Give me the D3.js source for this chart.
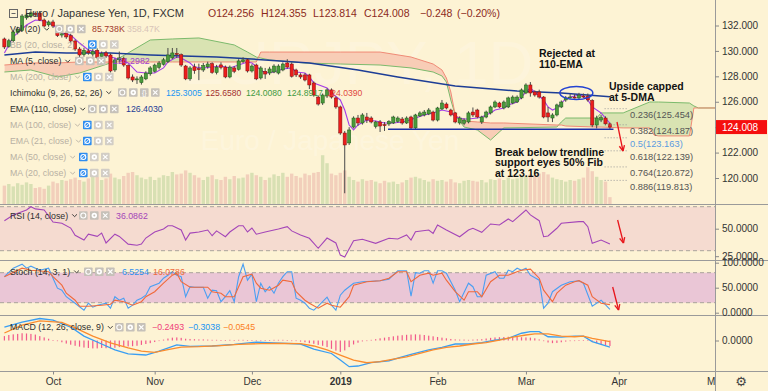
<!DOCTYPE html>
<html><head><meta charset="utf-8">
<script src="https://cdn.jsdelivr.net/npm/d3@7"></script>
<style>
html,body{margin:0;padding:0;background:#fdf3d4;}
svg{display:block;font-family:"Liberation Sans",Arial,sans-serif;}
</style></head><body>
<svg id="c" width="768" height="391"></svg>
<script>
// ---------- DATA (EUR/JPY daily, FXCM; bar 0 = 14 Sep 2018, bar 137 = 28 Mar 2019) ----------
const open = [130.94,130.35,130.80,131.45,131.60,132.60,132.75,132.95,132.98,132.43,
132.05,132.28,131.96,131.25,131.40,131.20,130.78,130.15,129.70,130.00,
129.75,130.05,129.55,129.85,129.68,128.50,129.30,129.40,128.85,127.95,
127.75,127.50,127.80,128.20,128.40,128.70,128.95,129.15,129.45,129.80,
129.70,128.81,127.80,128.75,128.60,128.50,128.75,129.00,128.30,128.90,
128.73,127.95,128.66,128.55,129.15,129.30,128.42,128.89,127.87,128.40,
128.26,128.34,128.26,128.50,129.05,128.97,128.50,128.11,128.11,128.11,
127.48,126.37,125.90,126.45,126.93,126.30,125.59,123.54,122.76,124.01,
124.72,124.33,124.80,124.72,124.05,124.41,124.20,124.25,124.33,124.45,
124.64,124.33,124.80,123.94,124.88,124.96,125.04,125.19,124.56,125.43,
125.82,125.35,125.12,124.33,124.30,124.41,125.19,125.35,124.41,124.80,
125.12,125.59,125.90,125.51,125.59,125.90,125.98,126.30,126.69,127.32,
126.77,126.77,126.37,125.12,124.72,124.96,125.59,126.14,126.35,126.37,
126.30,126.45,126.45,126.10,124.17,124.56,124.72,124.256];
const high = [131.05,130.95,131.60,131.90,132.90,133.00,133.20,133.10,133.10,132.55,
132.40,132.45,132.00,131.55,131.55,131.35,130.90,130.30,130.25,130.20,
130.15,130.20,129.95,130.00,129.80,129.45,129.95,129.55,128.95,128.15,
128.00,128.10,128.40,128.80,129.00,129.20,129.45,130.23,130.23,130.23,
129.80,128.90,128.80,129.00,129.00,129.05,129.15,129.10,128.90,129.10,
128.85,128.85,128.80,129.35,129.50,129.40,128.95,129.00,128.80,128.66,
128.75,128.95,128.95,129.10,129.35,129.10,128.60,128.25,128.25,128.20,
127.60,126.50,126.65,127.05,127.05,126.40,125.70,123.70,124.00,124.85,
124.96,125.10,125.12,124.85,124.50,124.56,124.40,124.55,124.90,124.85,
124.80,124.85,124.90,125.05,125.25,125.35,125.50,125.30,125.60,126.14,
125.95,125.45,125.20,124.85,124.70,125.25,125.55,125.45,124.90,125.30,
125.70,126.10,126.00,126.10,126.40,126.50,126.50,127.05,127.45,127.55,
126.90,126.95,126.45,125.59,125.10,125.85,126.10,126.45,126.60,126.60,
126.70,126.65,126.65,126.20,124.90,124.95,124.85,124.355];
const low = [130.15,130.25,130.70,131.30,131.50,132.45,132.60,132.70,132.35,131.85,
131.90,131.80,131.10,131.05,130.95,130.60,130.00,129.45,129.55,129.70,
129.55,129.35,129.40,129.45,128.30,128.35,129.10,128.75,127.75,127.55,
127.40,127.35,127.70,128.05,128.30,128.55,128.85,129.05,129.35,129.44,
128.75,127.70,127.65,128.20,127.70,128.35,128.60,128.20,128.15,128.55,
127.85,127.85,128.25,128.45,129.05,128.30,128.30,127.70,127.75,127.80,
128.10,128.25,128.15,128.40,128.60,127.90,127.95,127.80,127.60,127.00,
126.40,125.70,125.75,126.30,126.25,125.45,123.40,118.80,122.60,123.90,
124.10,124.20,124.33,124.30,123.90,123.62,123.70,124.10,124.25,124.35,
124.20,124.25,123.85,123.85,124.80,124.85,124.95,124.45,124.45,125.35,
125.40,124.85,124.30,124.20,124.15,124.30,124.80,124.70,124.25,124.70,
125.00,125.50,125.50,125.40,125.50,125.80,125.90,126.20,126.60,126.40,
126.40,126.25,124.70,124.41,124.40,124.85,125.50,126.00,126.25,126.25,
126.20,126.30,126.00,124.00,123.90,124.40,124.15,123.814];
const close = [130.31,130.80,131.49,131.70,132.75,132.83,133.00,132.88,132.43,131.96,
132.28,131.96,131.20,131.35,131.10,130.78,130.15,129.68,130.05,129.85,
129.95,129.50,129.80,129.60,128.42,129.29,129.45,128.89,127.87,127.71,
127.80,127.95,128.26,128.66,128.89,129.05,129.30,129.68,129.84,129.76,
128.89,127.80,128.66,128.45,128.55,128.85,128.97,128.30,128.73,128.70,
127.95,128.73,128.40,129.21,129.29,128.42,128.81,127.80,128.66,128.18,
128.58,128.81,128.81,128.97,128.73,128.00,128.11,127.95,127.71,127.32,
126.53,125.82,126.53,126.93,126.37,125.59,123.54,122.60,123.78,124.72,
124.33,124.96,124.56,124.41,124.41,124.09,124.15,124.45,124.80,124.72,
124.33,124.72,123.94,124.96,125.12,125.19,125.35,124.56,125.51,125.90,
125.51,124.96,124.41,124.72,124.56,125.12,124.96,124.80,124.80,125.19,
125.59,125.98,125.59,125.98,126.30,126.37,126.37,126.93,127.32,126.69,
126.53,126.37,124.80,124.80,124.96,125.75,125.98,126.30,126.37,126.35,
126.53,126.43,126.14,124.17,124.72,124.75,124.26,124.008];
const volumeK = [230,250,220,260,240,270,250, 200,210,190,230,280,260,300, 290,310,330,300,280,320,360,
340,300,320,380,330,310,350, 390,400,360,330,310,340, 300,330,360,350,400,370,380,
420,390,360,330,300,340,360, 310,300,340,310,350,320,330,370, 390,360,340,300,330,370,350,390,
340,380,350,330,380,360,390, 400,610,510,380,360,390,420, 340,300,280,310,290,300,280,
260,290,270,280,250,270,300, 330,340,320,300,280,310,290, 300,280,310,270,260,290,300,
290,280,300,270,310,300,320, 300,330,310,320,340,350,370, 360,380,400,370,330,310,300,
280,300,290,310,330,460,410, 340,300,280,85.738];
// Moving average (5) and EMA (110), read at bar positions
const ma5Pts = [[0,129.84],[2,131.10],[5,132.04],[7,132.43],[9,132.35],[11,132.04],[13,131.41],[15,131.25],[17,130.62],[19,130.07],
[22,129.84],[24,129.52],[25,129.44],[28,129.05],[30,128.34],[32,128.26],[34,128.26],[36,128.66],[37,129.13],[39,129.52],
[40,129.44],[42,129.05],[43,128.73],[45,128.66],[47,128.73],[49,128.81],[51,128.66],[53,128.89],[55,129.13],[56,129.05],
[58,128.50],[59,128.26],[61,128.34],[63,128.58],[65,128.66],[66,128.34],[68,128.26],[69,127.95],[70,127.48],[73,127.08],
[74,126.69],[76,126.14],[77,125.35],[78,124.17],[79,123.78],[80,124.17],[82,124.56],[84,124.49],[86,124.33],[88,124.33],
[90,124.41],[91,124.49],[93,124.72],[95,124.96],[97,125.12],[99,125.35],[101,125.19],[102,124.80],[104,124.64],[105,124.64],
[107,124.72],[108,124.80],[110,125.12],[111,125.35],[113,125.51],[114,125.75],[116,125.98],[117,126.37],[118,126.77],[119,127.08],
[120,126.77],[122,126.14],[123,125.59],[124,125.35],[125,125.51],[126,125.90],[127,126.22],[128,126.37],[130,126.53],[131,126.45],
[132,126.14],[133,125.59],[135,125.12],[136,124.72],[137,124.2982]];
const ema110Pts = [[0,129.68],[7,129.91],[14,129.84],[24,129.84],[33,129.68],[48,129.52],[56,129.36],[69,129.05],[80,128.50],[89,127.95],[102,127.24],[116,126.85],[126,126.69],[137,126.403]];
// Ichimoku cloud (leading spans, projected 26 bars ahead)
const cloudIdx = [0,6,12,17,24,28,33,38,44,52,55,57,58,60,68,76,85,92,97,99,100,101,102,104,107,110,113,125,126,127,134,135,140,146,147,148,155,156,157,163];
const spanA = [128.34,128.50,127.95,128.26,129.05,129.84,130.86,130.94,131.02,130.47,129.91,129.52,129.44,129.29,129.05,128.97,128.89,128.66,128.34,128.03,127.55,126.14,124.96,124.01,123.78,122.99,123.94,124.01,124.41,124.72,124.72,125.12,125.12,125.98,125.98,125.98,125.90,125.67,125.51,125.51];
const spanB = [128.89,129.05,129.05,129.13,129.13,129.13,129.13,129.13,129.13,129.13,129.13,129.13,129.91,129.91,129.91,129.91,129.91,129.52,128.97,128.50,127.87,126.77,124.96,124.49,124.41,124.33,124.33,124.17,124.17,124.09,124.01,124.01,123.94,123.94,123.38,123.31,123.31,125.51,125.51,125.51];
// Fibonacci retracement levels
const fibRatios = ["0.236","0.382","0.5","0.618","0.764","0.886"];
const fibPrices = [125.454,124.187,123.163,122.139,120.872,119.813];
const trendPrice = 123.83, trendFrom = 86.8, trendTo = 137.8;
// RSI (14)
const rsiPts = [[0,57.3],[2,62.5],[5,67],[6,70],[7,68],[9,67],[11,56],[13,55],[15,50.6],[16,44],[18,39.7],[19,45],[21,43],[22,46],[23,37],[25,45],[26,43],[28,36],[30,35],[31,36],[32,41.5],
[34,47],[36,49.7],[37,52.7],[38,52.7],[40,48.8],[41,39.7],[42,46],[44,47],[46,48.8],[47,43.6],[48,48],[50,42.7],[51,47],[53,52.7],[54,52.7],[55,47],[56,50.6],[57,45],[59,47],[61,48.8],
[62,49.7],[64,51.8],[65,48],[67,44.2],[69,41.3],[71,32.2],[73,41.5],[75,37],[76,26],[77,24.3],[79,39],[81,40.4],[84,36.7],[87,41.3],[89,40.6],[91,44.3],[92,39.7],[93,47.3],[96,48.8],[97,45.8],
[98,53.4],[100,48.8],[103,42.7],[105,48.8],[106,50.4],[108,46.7],[110,54.3],[112,53.4],[114,58.8],[115,56.4],[118,67],[119,62.5],[121,57.3],[122,42.7],[123,43.4],[125,50.4],[126,54.9],[130,56.4],[131,56.4],[132,51.8],[133,36.7],[135,39.7],[137,36.0862]];
// Stochastic (14,3,1) %K and %D
const stochK = [[0,72],[2,89],[4,97],[5,89],[6,93],[8,85],[10,89],[11,69],[12,49],[13,45],[14,32],[16,19],[17,12],[18,5],[19,19],[20,11],[21,15],[22,17],[23,19],[24,9],[25,32],[26,25],[27,29],[28,9],[29,15],[30,25],[31,29],[32,35],[33,52],[35,59],[36,69],[37,75],[38,82],[39,75],[40,72],[41,32],[42,52],[43,51],[44,51],[45,51],[46,29],[47,45],[48,44],[49,22],[50,32],[51,44],[52,22],[53,72],[54,97],[55,65],[56,77],[57,22],[58,59],[59,42],[60,52],[61,39],[62,59],[63,72],[64,82],[65,82],[66,29],[67,25],[68,19],[69,9],[70,5],[71,13],[73,31],[74,15],[75,5],[76,35],[77,45],[79,59],[81,62],[85,64],[87,67],[89,84],[91,84],[92,33],[93,80],[94,79],[95,84],[96,84],[97,59],[98,84],[99,84],[100,79],[102,45],[103,22],[105,59],[106,52],[107,32],[108,32],[109,75],[111,82],[112,69],[113,69],[114,85],[115,82],[116,89],[117,85],[118,89],[119,75],[121,65],[122,9],[123,19],[124,42],[126,55],[128,62],[130,64],[131,59],[133,13],[135,25],[137,6.5254]];
const stochD = [[0,72],[4,89],[6,85],[10,82],[11,72],[13,55],[14,39],[16,25],[17,13],[19,13],[22,15],[24,17],[25,25],[27,22],[29,15],[31,22],[32,32],[34,42],[36,59],[38,75],[39,79],[40,62],[42,51],[44,51],[46,51],[47,42],[49,39],[50,32],[52,32],[53,52],[54,72],[56,77],[57,59],[58,49],[60,45],[62,55],[63,65],[65,62],[66,42],[68,25],[69,19],[71,9],[73,19],[74,15],[76,11],[78,32],[79,55],[82,62],[85,64],[87,69],[89,82],[91,82],[92,62],[94,75],[96,79],[97,75],[99,79],[100,65],[102,42],[104,25],[105,42],[107,42],[108,32],[110,62],[112,75],[114,75],[116,82],[117,85],[119,87],[121,69],[122,45],[124,22],[125,39],[127,55],[129,62],[130,64],[132,55],[133,32],[135,19],[137,16.0786]];
// MACD (12,26,9)
const macdPts = [[0,0.61],[4,0.84],[8,1.00],[11,0.93],[15,0.61],[18,0.20],[22,-0.16],[25,-0.43],[28,-0.61],[32,-0.66],[35,-0.48],[39,-0.20],[42,-0.27],[47,-0.25],[52,-0.18],[57,-0.07],[61,-0.11],[67,-0.16],[70,-0.39],[74,-0.59],[76,-0.89],[78,-1.19],[80,-1.16],[83,-1.01],[87,-0.92],[90,-0.74],[92,-0.63],[96,-0.43],[99,-0.31],[102,-0.16],[105,-0.16],[108,-0.10],[111,0.02],[114,0.10],[117,0.33],[119,0.40],[121,0.40],[123,0.17],[126,0.15],[129,0.20],[131,0.20],[133,-0.05],[137,-0.3038]];
const signalPts = [[0,0.34],[4,0.70],[8,0.89],[13,0.82],[16,0.57],[20,0.20],[24,-0.11],[28,-0.34],[31,-0.48],[34,-0.54],[37,-0.41],[40,-0.30],[44,-0.28],[49,-0.23],[53,-0.18],[58,-0.14],[62,-0.13],[67,-0.14],[70,-0.25],[73,-0.43],[76,-0.66],[79,-0.89],[82,-1.01],[85,-0.96],[88,-0.85],[91,-0.74],[94,-0.58],[97,-0.43],[100,-0.31],[103,-0.25],[106,-0.16],[109,-0.10],[112,0.02],[115,0.15],[118,0.25],[120,0.30],[123,0.30],[126,0.20],[129,0.17],[131,0.20],[133,0.10],[137,-0.0545]];
const histogram = [0.20,0.25,0.28,0.30,0.33,0.32,0.30,0.27,0.20,0.14,0.08,0.02,
-0.03,-0.08,-0.14,-0.19,-0.24,-0.28,-0.32,-0.34,-0.36,-0.36,-0.34,-0.35,-0.36,-0.33,-0.30,-0.28,-0.27,-0.26,-0.24,-0.20,-0.16,-0.12,
-0.07,-0.02,0.04,0.09,0.13,0.14,0.12,0.08,0.07,0.06,0.05,0.05,0.04,0.03,0.03,0.02,0.02,0.03,0.02,0.03,0.03,0.02,
0.01,-0.01,0.00,0.01,0.02,0.03,0.03,0.03,0.02,0.00,-0.02,-0.05,-0.08,
-0.12,-0.15,-0.20,-0.24,-0.30,-0.38,-0.46,-0.52,-0.45,-0.30,-0.18,-0.10,-0.04,0.00,0.03,
0.06,0.10,0.13,0.16,0.19,0.22,0.24,0.26,0.27,0.28,0.27,0.25,0.22,0.19,
0.16,0.13,0.10,0.07,0.05,0.04,0.04,0.03,0.04,0.05,0.06,
0.09,0.12,0.14,0.15,0.16,0.17,0.17,0.16,0.15,0.14,0.13,0.10,
0.05,-0.03,-0.09,-0.12,-0.11,-0.08,-0.05,-0.03,-0.01,0.01,0.02,0.01,-0.06,-0.12,-0.17,-0.21,-0.2493];
// Axis ticks
const monthIdx = [11,34,56,76,98,118,139,161];
const monthLabels = ["Oct","Nov","Dec","2019","Feb","Mar","Apr","May"];
const priceTicks = [120,122,124,126,128,130,132];
const rsiTicks = [25,50], stochTicks = [0,50,100], macdTicks = [0];

// ---------- LAYOUT ----------
const W=768,H=391,PR=715;
const F="'Liberation Sans',Arial,sans-serif";
const x = d3.scaleLinear().domain([0,161]).range([4.4,716]);
const yP = d3.scaleLinear().domain([120,132]).range([178,25.5]);
const yV = d3.scaleLinear().domain([0,800]).range([204,140]);
const yR = d3.scaleLinear().domain([30,70]).range([250.7,206.7]);
const yS = d3.scaleLinear().domain([0,100]).range([312.7,262.7]);
const yM = d3.scaleLinear().domain([-1,1]).range([362.5,318.5]);

const svg = d3.select("#c");
const defs = svg.append("defs");
function clip(id,y0,y1,w){defs.append("clipPath").attr("id",id).append("rect").attr("x",0).attr("y",y0).attr("width",w||PR).attr("height",y1-y0);}
clip("cMain",0,204); clip("cRsi",204.5,260.5); clip("cSto",260.5,315.5); clip("cMacd",315.5,371); clip("cX",371,391);
svg.append("rect").attr("width",W).attr("height",H).attr("fill","#fdf3d4");

// indicator bands
svg.append("rect").attr("x",0).attr("y",yR(70)).attr("width",PR).attr("height",yR(30)-yR(70)).attr("fill","#f5dbd0");
svg.append("rect").attr("x",0).attr("y",yS(80)).attr("width",PR).attr("height",yS(20)-yS(80)).attr("fill","#eac6d6");
[[yR(70)],[yR(30)],[yS(80)],[yS(20)]].forEach(d=>svg.append("line").attr("x1",0).attr("x2",PR).attr("y1",d[0]).attr("y2",d[0]).attr("stroke","#a9a39b").attr("stroke-dasharray","4,3"));

// ---------- MAIN PANE ----------
const gMain = svg.append("g").attr("clip-path","url(#cMain)");
gMain.append("text").attr("x",358).attr("y",84).attr("text-anchor","middle").attr("font-size",62).attr("font-family",F).attr("fill","#ffffff").attr("opacity",0.16).text("EURJPY, 1D");
gMain.append("text").attr("x",330).attr("y",150).attr("text-anchor","middle").attr("font-size",28).attr("font-family",F).attr("fill","#ffffff").attr("opacity",0.2).text("Euro / Japanese Yen");

const cloud = cloudIdx.map((d,k)=>({i:d,a:spanA[k],b:spanB[k]}));
defs.append("clipPath").attr("id","cUp").append("path").attr("d",d3.area().x(d=>x(d.i)).y0(d=>yP(d.b)).y1(0)(cloud));
defs.append("clipPath").attr("id","cDn").append("path").attr("d",d3.area().x(d=>x(d.i)).y0(d=>yP(d.b)).y1(204)(cloud));
const band = d3.area().x(d=>x(d.i)).y0(d=>yP(d.a)).y1(d=>yP(d.b));
gMain.append("g").attr("clip-path","url(#cUp)").append("path").attr("d",band(cloud)).attr("fill","#d9e3b2");
gMain.append("g").attr("clip-path","url(#cDn)").append("path").attr("d",band(cloud)).attr("fill","#f8cdb6");
gMain.append("path").attr("d",d3.line().x(d=>x(d.i)).y(d=>yP(d.a))(cloud)).attr("fill","none").attr("stroke","#7cba6c").attr("stroke-width",1);
gMain.append("path").attr("d",d3.line().x(d=>x(d.i)).y(d=>yP(d.b))(cloud)).attr("fill","none").attr("stroke","#f08a76").attr("stroke-width",1);

const idx = d3.range(close.length);
const isUp = i => close[i] >= open[i];
gMain.append("g").selectAll("rect").data(idx).join("rect")
  .attr("x",i=>x(i)-1.7).attr("width",3.4).attr("y",i=>yV(volumeK[i])).attr("height",i=>yV(0)-yV(volumeK[i]))
  .attr("fill",i=>isUp(i)?"#d8e0b3":"#f2cfbb");

const ln = d3.line().x(d=>x(d[0])).y(d=>yP(d[1]));
gMain.append("path").attr("d",ln(ema110Pts)).attr("fill","none").attr("stroke","#1d3d96").attr("stroke-width",1.5);
gMain.append("path").attr("d",ln(ma5Pts)).attr("fill","none").attr("stroke","#a43de8").attr("stroke-width",1.1);

const gC = gMain.append("g");
gC.selectAll("line").data(idx).join("line").attr("x1",i=>x(i)).attr("x2",i=>x(i)).attr("y1",i=>yP(high[i])).attr("y2",i=>yP(low[i])).attr("stroke","#4a4a4a").attr("stroke-width",1);
gC.selectAll("rect").data(idx).join("rect")
  .attr("x",i=>x(i)-1.6).attr("width",3.2)
  .attr("y",i=>yP(Math.max(open[i],close[i])))
  .attr("height",i=>Math.max(1,Math.abs(yP(open[i])-yP(close[i]))))
  .attr("fill",i=>isUp(i)?"#4a9a3c":"#ec1c1c").attr("stroke",i=>isUp(i)?"#1f5a1a":"#7a1010").attr("stroke-width",0.5);

// trendline, ellipse
gMain.append("line").attr("x1",x(trendFrom)).attr("x2",x(trendTo)).attr("y1",yP(trendPrice)).attr("y2",yP(trendPrice)).attr("stroke","#1b2fa8").attr("stroke-width",1.5);
gMain.append("ellipse").attr("cx",x(129.4)).attr("cy",yP(126.69)).attr("rx",16.5).attr("ry",6.5).attr("fill","none").attr("stroke","#2342d2").attr("stroke-width",1.5);

// fib levels
fibPrices.forEach((p,k)=>{
  gMain.append("line").attr("x1",x(135.8)).attr("x2",x(141.2)).attr("y1",yP(p)).attr("y2",yP(p)).attr("stroke","#9b9b9b").attr("stroke-dasharray","1,2");
  gMain.append("text").attr("x",630).attr("y",yP(p)+9.5).attr("font-size",9.3).attr("font-family",F)
    .attr("fill",fibRatios[k]==="0.5"?"#5b9be0":"#555").text(fibRatios[k]+"("+p.toFixed(3)+")");
});

// annotations
const ann = svg.append("g").attr("font-family",F).attr("font-weight","bold").attr("font-size",10.5).attr("fill","#111");
[["Rejected at",539,57.3],["110-EMA",539,68],["Upside capped",609,90.3],["at 5-DMA",609,100.7],
 ["Break below trendline",495,155.5],["support eyes 50% Fib",495,166],["at 123.16",495,176.5]].forEach(t=>ann.append("text").attr("x",t[1]).attr("y",t[2]).text(t[0]));
function arrow(x1,y1,x2,y2){
  const g=svg.append("g").attr("stroke","#e8151b").attr("stroke-width",1.3).attr("fill","none");
  g.append("line").attr("x1",x1).attr("y1",y1).attr("x2",x2).attr("y2",y2);
  const a=Math.atan2(y2-y1,x2-x1),L=6;
  [0.45,-0.45].forEach(s=>g.append("line").attr("x1",x2).attr("y1",y2).attr("x2",x2-L*Math.cos(a+s)).attr("y2",y2-L*Math.sin(a+s)));
}
arrow(617,122,623,151); arrow(617.6,220,623.5,243); arrow(612.7,287,618.6,310);

// ---------- INDICATORS ----------
const gR = svg.append("g").attr("clip-path","url(#cRsi)");
gR.append("path").attr("d",d3.line().x(d=>x(d[0])).y(d=>yR(d[1]))(rsiPts)).attr("fill","none").attr("stroke","#a446b8").attr("stroke-width",1.1);
const gS = svg.append("g").attr("clip-path","url(#cSto)");
gS.append("path").attr("d",d3.line().x(d=>x(d[0])).y(d=>yS(d[1]))(stochK)).attr("fill","none").attr("stroke","#4b9ff2").attr("stroke-width",1.1);
gS.append("path").attr("d",d3.line().x(d=>x(d[0])).y(d=>yS(d[1]))(stochD)).attr("fill","none").attr("stroke","#f06a3c").attr("stroke-width",1.1);
const gM = svg.append("g").attr("clip-path","url(#cMacd)");
gM.selectAll("rect").data(idx).join("rect").attr("x",i=>x(i)-0.6).attr("width",1.2)
  .attr("y",i=>Math.min(yM(0),yM(histogram[i]))).attr("height",i=>Math.max(0.6,Math.abs(yM(histogram[i])-yM(0)))).attr("fill","#f2588a");
gM.append("path").attr("d",d3.line().x(d=>x(d[0])).y(d=>yM(d[1]))(macdPts)).attr("fill","none").attr("stroke","#3a9ef2").attr("stroke-width",1.3);
gM.append("path").attr("d",d3.line().x(d=>x(d[0])).y(d=>yM(d[1]))(signalPts)).attr("fill","none").attr("stroke","#fb8c2d").attr("stroke-width",1.3);

// ---------- AXES ----------
[204.5,260.5,315.5,371.5].forEach(y=>svg.append("line").attr("x1",0).attr("x2",W).attr("y1",y).attr("y2",y).attr("stroke","#9a9a9a"));
svg.append("line").attr("x1",PR+0.5).attr("x2",PR+0.5).attr("y1",0).attr("y2",H).attr("stroke","#9a9a9a");
function rAxis(scale,ticks,fmt){
  const g=svg.append("g").attr("transform",`translate(${PR},0)`).call(d3.axisRight(scale).tickValues(ticks).tickFormat(d3.format(fmt)).tickSize(4).tickPadding(3));
  g.select(".domain").remove();
  g.attr("font-family",F).attr("font-size",10);
  g.selectAll("text").attr("fill","#333"); g.selectAll("line").attr("stroke","#888");
}
rAxis(yP,priceTicks,".3f"); rAxis(yR,rsiTicks,".4f"); rAxis(yS,stochTicks,".4f"); rAxis(yM,macdTicks,".4f");
// last price label
const lp = close[close.length-1];
svg.append("rect").attr("x",PR+1).attr("y",yP(lp)-7).attr("width",51).attr("height",14).attr("fill","#f50f0f");
svg.append("text").attr("x",PR+7).attr("y",yP(lp)+3.6).attr("font-family",F).attr("font-size",10).attr("fill","#fff").text(lp.toFixed(3));

const gX = svg.append("g").attr("clip-path","url(#cX)").append("g").attr("transform","translate(0,371.5)")
  .call(d3.axisBottom(x).tickValues(monthIdx).tickFormat((d,k)=>monthLabels[k]).tickSize(3).tickPadding(3));
gX.select(".domain").remove();
gX.attr("font-family",F).attr("font-size",10);
gX.selectAll("text").attr("fill","#333").attr("font-weight",(d,k)=>monthLabels[k]==="2019"?"bold":"normal");
gX.selectAll("line").attr("stroke","#888");
svg.append("text").attr("x",741).attr("y",386).attr("text-anchor","middle").attr("font-family","DejaVu Sans").attr("font-size",13).attr("fill","#444").text("\u2699");

// ---------- LEGENDS ----------
const gL = svg.append("g").attr("font-family",F);
gL.append("rect").attr("x",9.5).attr("y",9.5).attr("width",8).attr("height",8).attr("fill","none").attr("stroke","#666");
gL.append("line").attr("x1",11.5).attr("x2",15.5).attr("y1",13.5).attr("y2",13.5).attr("stroke","#666");
gL.append("text").attr("x",25).attr("y",17).attr("font-size",11).attr("fill","#333").text("Euro / Japanese Yen, 1D, FXCM");
[["O124.256",208],["H124.355",261],["L123.814",313],["C124.008",364],["\u22120.248",420],["(\u22120.20%)",457]].forEach(t=>
  gL.append("text").attr("x",t[1]).attr("y",17).attr("font-size",10.5).attr("fill","#8c2a1c").text(t[0]));

function icons(x0,yc,kinds,blue,faded){
  kinds.forEach((k,j)=>{
    const bx=x0+j*11, bc=(j===0&&blue)?"#2d8cf0":(faded?"#d2cdc5":"#c6c1b9");
    gL.append("rect").attr("x",bx).attr("y",yc-4.3).attr("width",8.6).attr("height",8.6).attr("rx",0.8).attr("fill",bc);
    const cx=bx+4.3;
    if(k==="eye"){gL.append("circle").attr("cx",cx).attr("cy",yc).attr("r",2.5).attr("fill","none").attr("stroke","#fff").attr("stroke-width",1.1);
      if(j===0&&blue) gL.append("line").attr("x1",cx-2.6).attr("x2",cx+2.6).attr("y1",yc+2.6).attr("y2",yc-2.6).attr("stroke","#fff").attr("stroke-width",1);}
    else if(k==="gear"){gL.append("circle").attr("cx",cx).attr("cy",yc).attr("r",2.7).attr("fill","#fff");gL.append("circle").attr("cx",cx).attr("cy",yc).attr("r",1).attr("fill",bc);}
    else if(k==="br"){gL.append("text").attr("x",cx).attr("y",yc+2.6).attr("text-anchor","middle").attr("font-size",7).attr("fill","#fff").text("{}");}
    else {gL.append("path").attr("d",`M${cx-2.2},${yc-2.2}L${cx+2.2},${yc+2.2}M${cx+2.2},${yc-2.2}L${cx-2.2},${yc+2.2}`).attr("stroke","#fff").attr("stroke-width",1.2);}
  });
}
function row(yc,label,faded,iconX,kinds,blue,vals,vfs){
  const col=faded?"#b8b0a3":"#2e2e2e";
  const t=gL.append("text").attr("x",10).attr("y",yc+3.1).attr("font-size",8.8).attr("fill",col).text(label);
  const w=t.node().getComputedTextLength();
  gL.append("path").attr("d",`M${14+w},${yc-1.2}l2.4,2.4l2.4,-2.4`).attr("fill","none").attr("stroke",col).attr("stroke-width",0.9);
  icons(iconX,yc,kinds,blue,faded);
  vals.forEach(v=>gL.append("text").attr("x",v[0]).attr("y",yc+3).attr("font-size",vfs||8.8).attr("fill",v[2]).text(v[1]));
}
const K3=["eye","gear","x"];
row(29,"Vol (20)",false,55,K3,false,[[92,"85.738K","#a23a2c"],[127,"358.47K","#d8c4b8"]]);
row(44.5,"BB (20, close, 2)",true,88,K3,true,[]);
row(61,"MA (5, close)",false,75,K3,false,[[113,"124.2982","#a03cd0"]]);
row(77,"MA (200, close)",true,83,K3,true,[]);
row(92.5,"Ichimoku (9, 26, 52, 26)",false,118,["eye","gear","br","x"],false,[[166,"125.3005","#2196f3"],[205.5,"125.6580","#a33030"],[246,"124.0080","#3f9a3f"],[287,"124.8917","#3f9a3f"],[326.5,"124.0390","#e0483e"]],8.6);
row(109,"EMA (110, close)",false,88,K3,false,[[126,"126.4030","#1d3d96"]]);
row(125,"MA (100, close)",true,83,K3,true,[]);
row(141,"EMA (21, close)",true,83,K3,true,[]);
row(157,"MA (50, close)",true,79,K3,true,[]);
row(173,"MA (20, close)",true,79,K3,true,[]);
row(215.5,"RSI (14, close)",false,79,K3,false,[[116,"36.0862","#a446b8"]]);
row(271.7,"Stoch (14, 3, 1)",false,84,K3,false,[[122,"6.5254","#2f8ff0"],[153,"16.0786","#f06a3c"]]);
row(327.3,"MACD (12, 26, close, 9)",false,115,K3,false,[[152,"\u22120.2493","#f0407a"],[188,"\u22120.3038","#2196f3"],[223,"\u22120.0545","#fb7f1e"]]);
</script>
</body></html>
